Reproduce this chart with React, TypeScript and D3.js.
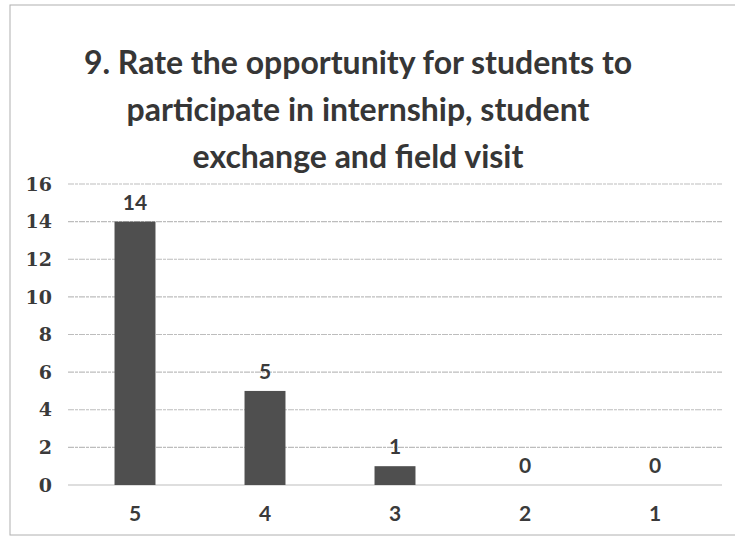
import React from "react";
import * as d3 from "d3";

const categories = ["5", "4", "3", "2", "1"];
const values = [14, 5, 1, 0, 0];
const yTicks = [0, 2, 4, 6, 8, 10, 12, 14, 16];
const titleLines = [
  "9. Rate the opportunity for students to",
  "participate in internship, student",
  "exchange and field visit",
];

export default function App() {
  const W = 735, H = 545;
  const x = d3.scaleBand<string>().domain(categories).range([70, 720]).paddingInner(0.685).paddingOuter(0.3425);
  const y = d3.scaleLinear().domain([0, 16]).range([485, 184]);
  const sans = "Lato, 'Open Sans', sans-serif";
  const serif = "'DejaVu Serif', 'Liberation Serif', serif";
  return (
    <svg width={W} height={H} style={{ position: "absolute", left: 0, top: 0, background: "#fff" }}>
      <rect x={10} y={5} width={740} height={530} fill="#fff" stroke="#b0b0b0" strokeWidth={1} />
      {titleLines.map((t, i) => (
        <text key={i} x={358} y={74 + i * 47} textAnchor="middle" fontFamily={sans} fontWeight={700} fontSize={32} fill="#363636">{t}</text>
      ))}
      {yTicks.map((t) => (
        <g key={t}>
          <line x1={68} x2={722} y1={y(t)} y2={y(t)} stroke="#bdbdbd" strokeWidth={1.2} strokeDasharray={t === 0 ? "" : "6 1 3 1"} />
          <text x={52} y={y(t)} dy="0.35em" textAnchor="end" fontFamily={serif} fontWeight={700} fontSize={19} fill="#3a3a3a">{t}</text>
        </g>
      ))}
      {categories.map((c, i) => {
        const bx = x(c)!;
        const cx = bx + x.bandwidth() / 2;
        return (
          <g key={c}>
            {values[i] > 0 && (
              <rect x={bx} y={y(values[i])} width={x.bandwidth()} height={y(0) - y(values[i])} fill="#4f4f4f" />
            )}
            <text x={cx} y={y(values[i]) - 12} textAnchor="middle" fontFamily={sans} fontWeight={700} fontSize={21} fill="#3a3a3a">{values[i]}</text>
            <text x={cx} y={521} textAnchor="middle" fontFamily={sans} fontWeight={700} fontSize={21} fill="#3a3a3a">{c}</text>
          </g>
        );
      })}
    </svg>
  );
}
